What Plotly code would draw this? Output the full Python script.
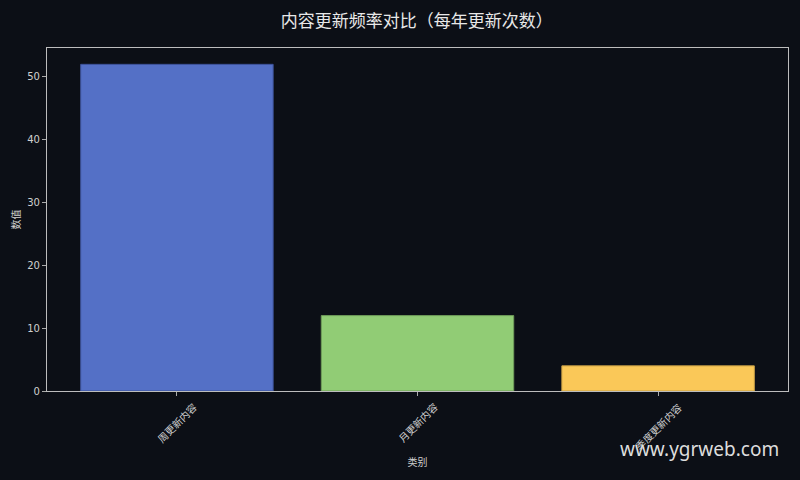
import plotly.graph_objects as go

categories = ["周更新内容", "月更新内容", "季度更新内容"]
values = [52, 12, 4]
colors = ["#5470c6", "#91cc75", "#fac858"]
edge_colors = ["#3d5299", "#6f9c59", "#c79f45"]

bg = "#0c0f16"
text_color = "#d0d0d0"
font_family = "Noto Sans CJK SC, Noto Sans, sans-serif"

fig = go.Figure(
	go.Bar(
		x=list(range(len(categories))),
		y=values,
		width=0.8,
		marker=dict(color=colors, line=dict(color=edge_colors, width=1)),
		hoverinfo="skip",
	)
)

fig.update_layout(
	width=800,
	height=480,
	paper_bgcolor=bg,
	plot_bgcolor=bg,
	margin=dict(l=47, r=12, t=48, b=89),
	showlegend=False,
	font=dict(family=font_family, color=text_color, size=10),
	title=dict(
		text="内容更新频率对比（每年更新次数）",
		x=0.521,
		xanchor="center",
		y=0.957,
		yanchor="middle",
		font=dict(size=17, color="#e8e8e8", family=font_family),
	),
	xaxis=dict(
		range=[-0.54, 2.54],
		tickmode="array",
		tickvals=list(range(len(categories))),
		showticklabels=False,
		ticks="outside",
		ticklen=4,
		tickcolor="#aaaaaa",
		showgrid=False,
		zeroline=False,
		showline=True,
		linecolor="#bdbdbd",
		linewidth=1.2,
		mirror=True,
		title=dict(text="类别", font=dict(size=10, color=text_color), standoff=63),
	),
	yaxis=dict(
		range=[0, 54.6],
		tickvals=[0, 10, 20, 30, 40, 50],
		ticks="outside",
		ticklen=4,
		tickcolor="#aaaaaa",
		showgrid=False,
		zeroline=False,
		showline=True,
		linecolor="#bdbdbd",
		linewidth=1.2,
		mirror=True,
		tickfont=dict(size=10, color=text_color, family="DejaVu Sans, sans-serif"),
		title=dict(text="数值", font=dict(size=10, color=text_color), standoff=4),
	),
)

# rotated category labels, centred under each tick like the original
for i, name in enumerate(categories):
	fig.add_annotation(
		text=name,
		xref="x",
		yref="paper",
		x=i,
		y=0,
		xanchor="center",
		yanchor="top",
		yshift=-6,
		textangle=-45,
		showarrow=False,
		font=dict(size=10, color=text_color, family=font_family),
	)

fig.add_annotation(
	text="www.ygrweb.com",
	xref="paper",
	yref="paper",
	x=0.99,
	y=-0.168,
	xanchor="right",
	yanchor="middle",
	showarrow=False,
	font=dict(size=19, color="#dddddd", family="Noto Sans, sans-serif"),
)

fig.write_html(
	"out.html",
	config={"displayModeBar": False},
	post_script="document.body.style.margin='0';",
)
